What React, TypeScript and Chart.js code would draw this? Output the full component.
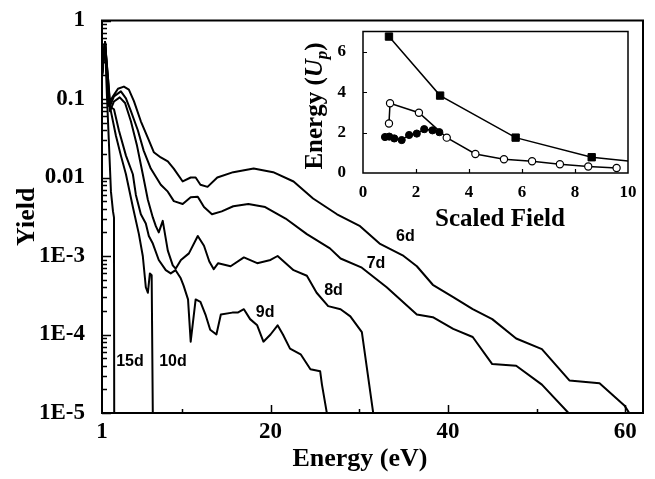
import React, { useEffect, useRef } from "react";
import { Chart, registerables } from "chart.js";

Chart.register(...registerables);

// ---------------- main chart data (Energy in eV, Yield) ----------------
const energy6d = [1.0, 1.34, 1.56, 1.9, 2.24, 2.8, 3.47, 4.03, 4.6, 5.38, 6.17, 6.84, 7.63, 8.42, 9.09, 10.1, 11.0, 11.56, 12.1, 12.9, 14.0, 15.8, 18.1, 20.3, 22.6, 24.8, 27.5, 30.1, 32.3, 34.9, 36.5, 38.3, 40.6, 42.8, 45.0, 47.7, 50.6, 53.7, 57.1, 59.9, 61.5];
const yield6d = [0.2, 0.53, 0.26, 0.093, 0.108, 0.135, 0.144, 0.132, 0.094, 0.052, 0.032, 0.021, 0.018, 0.016, 0.013, 0.0089, 0.01, 0.01, 0.0081, 0.0076, 0.01, 0.0117, 0.013, 0.0117, 0.0089, 0.0054, 0.0034, 0.0024, 0.00144, 0.00102, 0.00074, 0.00043, 0.0003, 0.00021, 0.000157, 0.000089, 0.000065, 0.000026, 0.000024, 0.0000125, 0.0000065];

const energy7d = [1.0, 1.34, 1.67, 1.9, 2.35, 3.13, 3.7, 4.26, 5.04, 5.7, 6.5, 7.63, 8.42, 9.1, 10.1, 11.0, 11.8, 12.5, 13.4, 14.5, 15.8, 17.5, 19.4, 21.7, 24.1, 26.7, 27.9, 30.3, 33.1, 36.5, 38.3, 40.6, 42.8, 45.0, 47.7, 50.6, 53.6, 54.5];
const yield7d = [0.2, 0.53, 0.19, 0.081, 0.108, 0.125, 0.102, 0.07, 0.04, 0.022, 0.013, 0.0081, 0.0066, 0.005, 0.0046, 0.0056, 0.0057, 0.0042, 0.0034, 0.0037, 0.0043, 0.0046, 0.0042, 0.003, 0.0019, 0.00125, 0.00093, 0.00071, 0.0004, 0.00018, 0.000166, 0.000118, 0.000093, 0.000042, 0.00004, 0.000023, 0.00001, 0.000006];

const energy8d = [1.0, 1.34, 1.67, 1.9, 2.35, 3.0, 3.6, 4.26, 4.93, 5.6, 6.17, 6.73, 7.07, 7.4, 7.85, 8.42, 8.98, 9.3, 9.9, 10.8, 11.8, 12.5, 13.1, 13.6, 14.1, 15.5, 17.0, 18.5, 20.0, 20.8, 22.6, 24.1, 25.2, 26.5, 27.9, 29.0, 30.3, 31.7];
const yield8d = [0.2, 0.53, 0.166, 0.07, 0.093, 0.105, 0.089, 0.052, 0.026, 0.011, 0.0052, 0.0031, 0.0024, 0.002, 0.0028, 0.00117, 0.00076, 0.00069, 0.00089, 0.00108, 0.0018, 0.00135, 0.00085, 0.00068, 0.00081, 0.00074, 0.00096, 0.00081, 0.00089, 0.001, 0.00066, 0.00056, 0.00034, 0.00023, 0.00021, 0.00017, 0.000107, 0.000008];

const energy9d = [1.0, 1.34, 1.79, 2.35, 2.9, 3.7, 4.48, 4.82, 5.38, 5.94, 6.28, 6.73, 7.4, 8.19, 8.75, 9.3, 9.88, 10.2, 10.7, 11.0, 11.56, 12.1, 12.7, 13.2, 13.9, 14.4, 15.7, 16.3, 17.0, 17.7, 18.5, 19.2, 20.0, 20.8, 21.4, 22.2, 23.4, 24.5, 25.6, 25.8, 26.5];
const yield9d = [0.2, 0.53, 0.081, 0.074, 0.04, 0.019, 0.011, 0.006, 0.0034, 0.0026, 0.0018, 0.00144, 0.00089, 0.00066, 0.0006, 0.00066, 0.00052, 0.00042, 0.00028, 0.000081, 0.00028, 0.00026, 0.000175, 0.000115, 0.0001, 0.00018, 0.00019, 0.00019, 0.00021, 0.000157, 0.000131, 0.000081, 0.0001, 0.000131, 0.0001, 0.000066, 0.000056, 0.000036, 0.000034, 0.000023, 0.000008];

const energy10d = [1.0, 1.34, 1.67, 2.0, 2.57, 3.13, 3.7, 4.48, 5.16, 5.6, 5.94, 6.17, 6.4, 6.6, 6.75];
const yield10d = [0.2, 0.53, 0.108, 0.07, 0.034, 0.019, 0.011, 0.0042, 0.0019, 0.001, 0.0004, 0.00034, 0.0006, 0.00057, 0.000005];

const energy15d = [1.0, 1.34, 1.56, 1.79, 2.01, 2.24, 2.35, 2.38];
const yield15d = [0.2, 0.53, 0.108, 0.026, 0.0066, 0.0037, 0.0031, 0.000005];

const curveLabels = ["6d", "7d", "8d", "9d", "10d", "15d"];
const curveLabelEnergy = [35.2, 31.9, 27.1, 19.4, 9.0, 4.15];
const curveLabelYield = [0.00175, 0.00079, 0.00036, 0.00019, 0.000045, 0.000045];

const xTickValues = [1, 10, 20, 30, 40, 50, 60];
const xTickLabels = ["1", "", "20", "", "40", "", "60"];
const yDecadeValues = [1e-5, 1e-4, 1e-3, 1e-2, 1e-1, 1];
const yDecadeLabels = ["1E-5", "1E-4", "1E-3", "0.01", "0.1", "1"];

// ---------------- inset data (Scaled Field, Energy in Up) ----------------
const squareField = [0.98, 2.91, 5.76, 8.63, 11.6];
const squareEnergy = [6.75, 3.83, 1.75, 0.78, 0.38];
const openField = [0.98, 1.02, 2.11, 3.16, 4.24, 5.32, 6.38, 7.43, 8.5, 9.57];
const openEnergy = [2.45, 3.45, 2.98, 1.75, 0.94, 0.68, 0.58, 0.43, 0.32, 0.25];
const filledField = [0.83, 0.99, 1.18, 1.46, 1.74, 2.03, 2.31, 2.62, 2.88];
const filledEnergy = [1.78, 1.8, 1.71, 1.63, 1.88, 1.95, 2.17, 2.11, 2.02];
const insetXTicks = [0, 2, 4, 6, 8, 10];
const insetYTicks = [0, 2, 4, 6];

const SERIF = '"Liberation Serif", "Times New Roman", serif';
const SANS = '"Liberation Sans", Arial, sans-serif';

function pts(xs: number[], ys: number[]) {
  return xs.map((x, i) => ({ x, y: ys[i] }));
}

function framePlugin(width: number) {
  return {
    id: "frame",
    afterDatasetsDraw(chart: any) {
      const { ctx, chartArea: a } = chart;
      ctx.save();
      ctx.strokeStyle = "#000";
      ctx.lineWidth = width;
      ctx.strokeRect(a.left, a.top, a.right - a.left, a.bottom - a.top);
      ctx.restore();
    },
  };
}

function tickPlugin(xLen: (v: number) => number, yLen: (v: number) => number, width: number) {
  return {
    id: "inwardTicks",
    afterDatasetsDraw(chart: any) {
      const { ctx, chartArea: a, scales } = chart;
      ctx.save();
      ctx.strokeStyle = "#000";
      ctx.lineWidth = width;
      ctx.beginPath();
      for (const t of scales.x.ticks) {
        const l = xLen(t.value);
        if (!l) continue;
        const p = Math.round(scales.x.getPixelForValue(t.value)) + 0.5;
        ctx.moveTo(p, a.bottom);
        ctx.lineTo(p, a.bottom - l);
      }
      for (const t of scales.y.ticks) {
        const l = yLen(t.value);
        if (!l) continue;
        const p = Math.round(scales.y.getPixelForValue(t.value)) + 0.5;
        ctx.moveTo(a.left, p);
        ctx.lineTo(a.left + l, p);
      }
      ctx.stroke();
      ctx.restore();
    },
  };
}

const isDecade = (v: number) => yDecadeValues.some((d) => Math.abs(v / d - 1) < 1e-6);

const mainAnnotations = {
  id: "mainAnnotations",
  afterDatasetsDraw(chart: any) {
    const { ctx, scales, chartArea: a } = chart;
    ctx.save();
    ctx.fillStyle = "#000";
    ctx.font = `bold 16px ${SANS}`;
    ctx.textAlign = "center";
    ctx.textBaseline = "middle";
    curveLabels.forEach((t, i) => {
      ctx.fillText(t, scales.x.getPixelForValue(curveLabelEnergy[i]), scales.y.getPixelForValue(curveLabelYield[i]));
    });
    ctx.font = `bold 26px ${SERIF}`;
    ctx.textBaseline = "alphabetic";
    ctx.fillText("Energy (eV)", 360, 466);
    ctx.translate(34, (a.top + a.bottom) / 2);
    ctx.rotate(-Math.PI / 2);
    ctx.fillText("Yield", 0, 0);
    ctx.restore();
  },
};

const insetAnnotations = {
  id: "insetAnnotations",
  afterDatasetsDraw(chart: any) {
    const { ctx } = chart;
    ctx.save();
    ctx.fillStyle = "#000";
    ctx.textBaseline = "alphabetic";
    ctx.textAlign = "center";
    ctx.font = `bold 25px ${SERIF}`;
    ctx.fillText("Scaled Field", 210, 212);
    // rotated "Energy (Up)" with italic U and subscript p
    const parts = [
      { t: "Energy (", f: `bold 25px ${SERIF}`, dy: 0 },
      { t: "U", f: `italic bold 25px ${SERIF}`, dy: 0 },
      { t: "p", f: `italic bold 17px ${SERIF}`, dy: 5 },
      { t: ")", f: `bold 25px ${SERIF}`, dy: 0 },
    ];
    ctx.textAlign = "left";
    let total = 0;
    const widths = parts.map((p) => {
      ctx.font = p.f;
      const w = ctx.measureText(p.t).width;
      total += w;
      return w;
    });
    ctx.translate(32, 92);
    ctx.rotate(-Math.PI / 2);
    let x = -total / 2;
    parts.forEach((p, i) => {
      ctx.font = p.f;
      ctx.fillText(p.t, x, p.dy);
      x += widths[i];
    });
    ctx.restore();
  },
};

export default function App() {
  const mainRef = useRef<HTMLCanvasElement | null>(null);
  const insetRef = useRef<HTMLCanvasElement | null>(null);

  useEffect(() => {
    const line = (xs: number[], ys: number[]) => ({
      data: pts(xs, ys),
      borderColor: "#000",
      borderWidth: 2,
      pointRadius: 0,
      fill: false,
      tension: 0,
      borderJoinStyle: "round" as const,
    });
    const tickFont = { family: SERIF, size: 23, weight: "bold" as const, lineHeight: 1 };

    const main = new Chart(mainRef.current as HTMLCanvasElement, {
      type: "line",
      data: {
        datasets: [
          line(energy6d, yield6d),
          line(energy7d, yield7d),
          line(energy8d, yield8d),
          line(energy9d, yield9d),
          line(energy10d, yield10d),
          line(energy15d, yield15d),
        ],
      },
      options: {
        responsive: false,
        maintainAspectRatio: false,
        animation: false,
        devicePixelRatio: 1,
        layout: { padding: { top: 13, right: 12, left: 0, bottom: 0 } },
        plugins: { legend: { display: false }, tooltip: { enabled: false } },
        scales: {
          x: {
            type: "linear",
            min: 1,
            max: 62,
            grid: { display: false },
            border: { display: false },
            afterBuildTicks: (s: any) => {
              s.ticks = xTickValues.map((v) => ({ value: v }));
            },
            afterFit: (s: any) => {
              s.height = 66;
            },
            ticks: {
              autoSkip: false,
              maxRotation: 0,
              padding: 0,
              color: "#000",
              font: tickFont,
              callback: (v: any) => {
                const i = xTickValues.indexOf(Number(v));
                return i >= 0 ? xTickLabels[i] : "";
              },
            },
          },
          y: {
            type: "logarithmic",
            min: 1e-5,
            max: 1,
            grid: { display: false },
            border: { display: false },
            afterBuildTicks: (s: any) => {
              const vals: number[] = [];
              yDecadeValues.forEach((d, i) => {
                vals.push(d);
                if (i < yDecadeValues.length - 1) for (let k = 2; k <= 9; k++) vals.push(k * d);
              });
              s.ticks = vals.map((v) => ({ value: v }));
            },
            afterFit: (s: any) => {
              s.width = 102;
            },
            ticks: {
              autoSkip: false,
              padding: 9,
              color: "#000",
              font: tickFont,
              callback: (v: any) => {
                const i = yDecadeValues.findIndex((d) => Math.abs(Number(v) / d - 1) < 1e-6);
                return i >= 0 ? yDecadeLabels[i] : "";
              },
            },
          },
        },
      },
      plugins: [
        framePlugin(2),
        tickPlugin(
          (v) => (v === 1 ? 0 : v % 20 === 0 ? 8 : 4),
          (v) => (isDecade(v) ? 9 : 5),
          1.5
        ),
        mainAnnotations,
      ],
    } as any);

    const insetTickFont = { family: SERIF, size: 17, weight: "bold" as const, lineHeight: 1 };
    const inset = new Chart(insetRef.current as HTMLCanvasElement, {
      type: "line",
      data: {
        datasets: [
          {
            data: pts(filledField, filledEnergy),
            borderColor: "#000",
            borderWidth: 1.5,
            pointStyle: "circle",
            pointRadius: 3.6,
            pointBackgroundColor: "#000",
            pointBorderColor: "#000",
            pointBorderWidth: 1,
            tension: 0,
          },
          {
            data: pts(openField, openEnergy),
            borderColor: "#000",
            borderWidth: 1.5,
            pointStyle: "circle",
            pointRadius: 3.6,
            pointBackgroundColor: "#fff",
            pointBorderColor: "#000",
            pointBorderWidth: 1.2,
            tension: 0,
          },
          {
            data: pts(squareField, squareEnergy),
            borderColor: "#000",
            borderWidth: 1.5,
            pointStyle: "rect",
            pointRadius: squareField.map((f) => (f <= 10 ? 5.2 : 0)),
            pointBackgroundColor: "#000",
            pointBorderColor: "#000",
            pointBorderWidth: 1,
            tension: 0,
          },
        ],
      },
      options: {
        responsive: false,
        maintainAspectRatio: false,
        animation: false,
        devicePixelRatio: 1,
        layout: { padding: { top: 9, right: 12, left: 0, bottom: 0 } },
        plugins: { legend: { display: false }, tooltip: { enabled: false } },
        scales: {
          x: {
            type: "linear",
            min: 0,
            max: 10,
            grid: { display: false },
            border: { display: false },
            afterBuildTicks: (s: any) => {
              s.ticks = insetXTicks.map((v) => ({ value: v }));
            },
            afterFit: (s: any) => {
              s.height = 63;
            },
            ticks: { autoSkip: false, maxRotation: 0, padding: 3, color: "#000", font: insetTickFont },
          },
          y: {
            type: "linear",
            min: 0,
            max: 7,
            grid: { display: false },
            border: { display: false },
            afterBuildTicks: (s: any) => {
              s.ticks = insetYTicks.map((v) => ({ value: v }));
            },
            afterFit: (s: any) => {
              s.width = 73;
            },
            ticks: { autoSkip: false, padding: 9, color: "#000", font: insetTickFont },
          },
        },
      },
      plugins: [
        framePlugin(1.5),
        tickPlugin(
          (v) => (v === 0 || v === 10 ? 0 : 4),
          (v) => (v === 0 ? 0 : 4),
          1.2
        ),
        insetAnnotations,
      ],
    } as any);

    return () => {
      main.destroy();
      inset.destroy();
    };
  }, []);

  return (
    <div style={{ position: "fixed", left: 0, top: 0, width: 655, height: 479, background: "#fff" }}>
      <canvas
        ref={mainRef}
        width={655}
        height={479}
        style={{ position: "absolute", left: 0, top: 0, width: 655, height: 479 }}
      />
      <canvas
        ref={insetRef}
        width={350}
        height={222}
        style={{ position: "absolute", left: 290, top: 14, width: 350, height: 222 }}
      />
    </div>
  );
}
